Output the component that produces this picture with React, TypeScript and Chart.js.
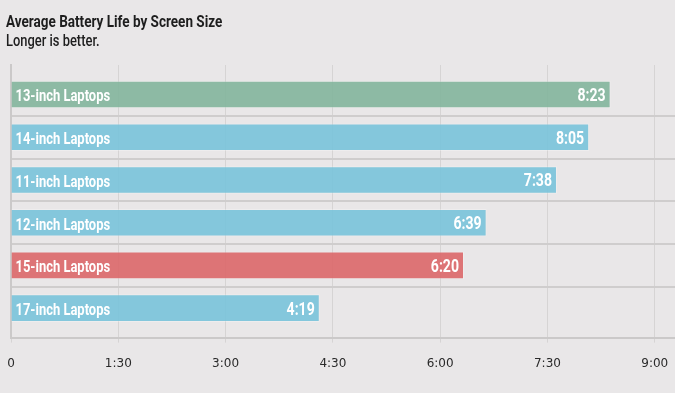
import React, { useEffect, useRef } from "react";
import { Chart, registerables } from "chart.js";

Chart.register(...registerables);

const categories = [
  "13-inch Laptops",
  "14-inch Laptops",
  "11-inch Laptops",
  "12-inch Laptops",
  "15-inch Laptops",
  "17-inch Laptops",
];
// battery life in minutes
const minutes = [503, 485, 458, 399, 380, 259];
const barColors = [
  "rgba(131,181,156,0.9)",
  "rgba(121,195,218,0.9)",
  "rgba(121,195,218,0.9)",
  "rgba(121,195,218,0.9)",
  "rgba(220,103,105,0.9)",
  "rgba(121,195,218,0.9)",
];
const xTicks = [0, 90, 180, 270, 360, 450, 540];
const titleText = "Average Battery Life by Screen Size";
const subtitleText = "Longer is better.";

const LABEL_FONT = "Roboto, 'Noto Sans', sans-serif";

function fmt(m: number): string {
  const h = Math.floor(m / 60);
  const mm = Math.round(m - h * 60);
  return h === 0 && mm === 0 ? "0" : `${h}:${String(mm).padStart(2, "0")}`;
}

function squeezedText(ctx: CanvasRenderingContext2D, text: string, x: number, y: number, sx: number) {
  ctx.save();
  ctx.translate(x, y);
  ctx.scale(sx, 1);
  ctx.fillText(text, 0, 0);
  ctx.restore();
}

const barLabels = {
  id: "barLabels",
  afterDatasetsDraw(chart: any) {
    const ctx = chart.ctx;
    const meta = chart.getDatasetMeta(0);
    ctx.save();
    ctx.fillStyle = "#ffffff";
    ctx.textBaseline = "alphabetic";
    meta.data.forEach((bar: any, i: number) => {
      const p = bar.getProps(["x", "y", "base"], true);
      ctx.font = `bold 16px ${LABEL_FONT}`;
      ctx.textAlign = "left";
      squeezedText(ctx, categories[i], p.base + 4, p.y + 7, 0.81);
      ctx.font = `bold 19px ${LABEL_FONT}`;
      ctx.textAlign = "right";
      squeezedText(ctx, fmt(minutes[i]), p.x - 5, p.y + 6.5, 0.74);
    });
    ctx.restore();
  },
};

export default function App() {
  const ref = useRef<HTMLCanvasElement>(null);
  useEffect(() => {
    if (!ref.current) return;
    const chart = new Chart(ref.current, {
      type: "bar",
      data: {
        datasets: [
          {
            data: minutes.map((v, i) => ({ x: v, y: i })),
            backgroundColor: barColors,
            borderColor: "rgba(255,255,255,0.25)",
            borderWidth: 1,
            barPercentage: 0.645,
            categoryPercentage: 1,
          },
        ],
      },
      options: {
        indexAxis: "y",
        animation: false,
        responsive: false,
        layout: { padding: { left: 6, right: 0, top: 65, bottom: 8 } },
        plugins: {
          legend: { display: false },
          tooltip: { enabled: false },
          title: { display: false },
        },
        scales: {
          x: {
            type: "linear",
            min: 0,
            max: 557,
            afterBuildTicks: (s: any) => {
              s.ticks = xTicks.map((v) => ({ value: v }));
            },
            afterFit: (s: any) => {
              s.paddingLeft = 0;
              s.paddingRight = 0;
            },
            ticks: {
              callback: (v: any) => fmt(Number(v)),
              color: "#2a2a2a",
              font: { family: "'DejaVu Sans', sans-serif", size: 12 },
              padding: 14,
              maxRotation: 0,
            },
            grid: { color: "#d6d4d4", lineWidth: 1, tickLength: 5 },
            border: { display: true, color: "#cbc9c9", width: 2 },
          },
          y: {
            type: "linear",
            reverse: true,
            offset: false,
            min: -0.69,
            max: 5.69,
            afterBuildTicks: (s: any) => {
              s.ticks = [0.5, 1.5, 2.5, 3.5, 4.5].map((v) => ({ value: v }));
            },
            afterFit: (s: any) => {
              s.width = 5;
              s.paddingTop = 0;
              s.paddingBottom = 0;
            },
            ticks: { display: false },
            grid: { color: "#cfcdcd", lineWidth: 2, drawTicks: false, offset: false },
            border: { display: true, color: "#cbc9c9", width: 2 },
          },
        },
      } as any,
      plugins: [barLabels],
    });
    return () => chart.destroy();
  }, []);
  const headStyle: React.CSSProperties = {
    position: "absolute",
    left: 6,
    margin: 0,
    fontFamily: "Roboto, 'Noto Sans', sans-serif",
    fontSize: 17,
    lineHeight: "20px",
    color: "#1e1e1e",
    whiteSpace: "nowrap",
    transformOrigin: "0 0",
  };
  return (
    <div
      style={{
        position: "fixed",
        left: 0,
        top: 0,
        width: 675,
        height: 393,
        background: "#e9e7e8",
        overflow: "hidden",
      }}
    >
      <div style={{ ...headStyle, top: 11, fontWeight: 700, transform: "scaleX(0.795)" }}>{titleText}</div>
      <div style={{ ...headStyle, top: 30, fontWeight: 500, transform: "scaleX(0.76)" }}>{subtitleText}</div>
      <canvas ref={ref} width={675} height={393} style={{ display: "block" }} />
    </div>
  );
}
